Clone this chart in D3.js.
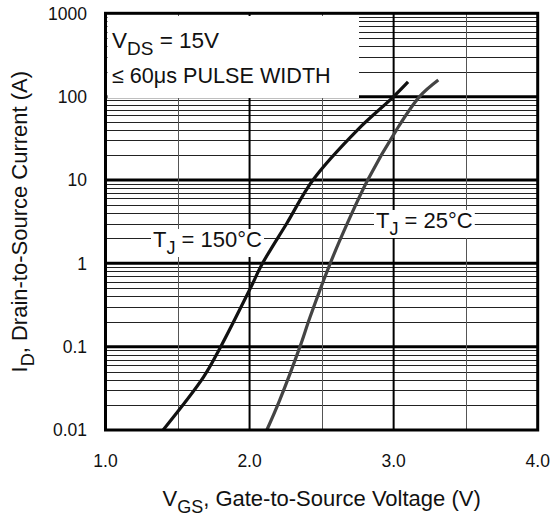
<!DOCTYPE html>
<meta charset="utf-8">
<style>
body { margin:0; background:#fff; }
svg text { font-family:"Liberation Sans", Arial, Helvetica, sans-serif; fill:#111; }
.minor { stroke:#222; stroke-width:1; shape-rendering:crispEdges; }
.decade { stroke:#000; stroke-width:3; }
.vmajor { stroke:#000; stroke-width:2; }
.vminor { stroke:#555; stroke-width:1; shape-rendering:crispEdges; }
.frame { fill:none; stroke:#000; stroke-width:3; }
.curve { fill:none; stroke-width:3.2; stroke-linejoin:round; }
</style>
<body>
<script src="https://cdnjs.cloudflare.com/ajax/libs/d3/7.8.5/d3.min.js"></script>
<script>

var width = 552,
    height = 519;

// axis ticks
var vgsTicks = [1.0, 2.0, 3.0, 4.0];
var vgsGrid = [1.5, 2.0, 2.5, 3.0, 3.5];
var idTicks = [0.01, 0.1, 1, 10, 100, 1000];

// Tj = 150C
var vgs150 = [1.40, 1.68, 1.80, 2.00, 2.09, 2.26, 2.44, 2.75, 3.00, 3.10];
var id150  = [0.01, 0.043, 0.1, 0.48, 1.0, 3.05, 10, 40, 100, 150];

// Tj = 25C
var vgs25 = [2.12, 2.21, 2.35, 2.42, 2.56, 2.68, 2.82, 3.02, 3.18, 3.31];
var id25  = [0.01, 0.023, 0.1, 0.227, 1.0, 3.05, 10, 40, 100, 158];

var x = d3.scaleLinear().domain([1, 4]).range([105.5, 537.7]);
var y = d3.scaleLog().domain([0.01, 1000]).range([430, 13.3]);

var svg = d3.select("body").append("svg")
    .attr("width", width)
    .attr("height", height);

var grid = svg.append("g");

// minor horizontal lines 2..9 in each decade
var minors = [];
idTicks.slice(0, -1).forEach(function(d){
    for (var k = 2; k <= 9; k++) minors.push(d * k);
});
grid.selectAll(".minor")
    .data(minors)
    .enter().append("line")
    .attr("class","minor")
    .attr("x1", x(1)).attr("x2", x(4))
    .attr("y1", function(d){ return Math.round(y(d)) + 0.5; })
    .attr("y2", function(d){ return Math.round(y(d)) + 0.5; });

grid.selectAll(".decade")
    .data(idTicks.slice(1, -1))
    .enter().append("line")
    .attr("class","decade")
    .attr("x1", x(1)).attr("x2", x(4))
    .attr("y1", function(d){ return y(d); })
    .attr("y2", function(d){ return y(d); });

grid.selectAll(".vline")
    .data(vgsGrid)
    .enter().append("line")
    .attr("class", function(d){ return d % 1 === 0 ? "vmajor" : "vminor"; })
    .attr("x1", function(d){ return d % 1 === 0 ? x(d) : Math.round(x(d)) + 0.5; })
    .attr("x2", function(d){ return d % 1 === 0 ? x(d) : Math.round(x(d)) + 0.5; })
    .attr("y1", y(1000)).attr("y2", y(0.01));

// white annotation box (upper left)
svg.append("rect")
    .attr("x", x(1) + 2).attr("y", 16)
    .attr("width", 359 - x(1) - 2).attr("height", 98 - 16)
    .attr("fill", "#fff");

var ann = svg.append("g");
var t1 = ann.append("text").attr("x", 112).attr("y", 48).attr("font-size", 22.5);
t1.append("tspan").text("V");
t1.append("tspan").attr("dy", 7).attr("font-size", 19).text("DS");
t1.append("tspan").attr("dy", -7).text(" = 15V");
ann.append("text").attr("x", 112).attr("y", 83).attr("font-size", 21.6)
    .text("\u2264 60\u03bcs PULSE WIDTH");

// curves
var line = d3.line()
    .x(function(d){ return x(d[0]); })
    .y(function(d){ return y(d[1]); })
    .curve(d3.curveCatmullRom);

var curve150 = d3.zip(vgs150, id150);
var curve25 = d3.zip(vgs25, id25);

svg.append("path").datum(curve150).attr("class","curve")
    .attr("stroke", "#111").attr("d", line);
svg.append("path").datum(curve25).attr("class","curve")
    .attr("stroke", "#444").attr("d", line);

// curve labels with white background
function tjLabel(px, py, temp) {
    var g = svg.append("g");
    var bg = g.append("rect").attr("fill", "#fff");
    var t = g.append("text").attr("x", px).attr("y", py).attr("font-size", 22);
    t.append("tspan").text("T");
    t.append("tspan").attr("dy", 7).attr("font-size", 18).text("J");
    t.append("tspan").attr("dy", -7).text(" = " + temp + "\u00b0C");
    var b = t.node().getBBox();
    bg.attr("x", b.x - 2).attr("y", b.y + 2)
      .attr("width", b.width + 4).attr("height", b.height - 3);
}
tjLabel(153, 247, 150);
tjLabel(376, 228, 25);

// frame
svg.append("rect").attr("class","frame")
    .attr("x", x(1)).attr("y", y(1000))
    .attr("width", x(4) - x(1)).attr("height", y(0.01) - y(1000));

// tick labels
var fmtY = function(d){ return d < 1 ? String(d) : d3.format("d")(d); };
svg.selectAll(".ylab")
    .data(idTicks)
    .enter().append("text")
    .attr("x", 87)
    .attr("y", function(d){ return y(d); })
    .attr("dy", "0.36em")
    .attr("text-anchor", "end")
    .attr("font-size", 17.5)
    .text(fmtY);

svg.selectAll(".xlab")
    .data(vgsTicks)
    .enter().append("text")
    .attr("x", function(d){ return x(d); })
    .attr("y", 467)
    .attr("text-anchor", "middle")
    .attr("font-size", 17.5)
    .text(d3.format(".1f"));

// axis titles
var xt = svg.append("text")
    .attr("x", (x(1) + x(4)) / 2).attr("y", 506)
    .attr("text-anchor", "middle").attr("font-size", 22);
xt.append("tspan").text("V");
xt.append("tspan").attr("dy", 7).attr("font-size", 18).text("GS");
xt.append("tspan").attr("dy", -7).text(", Gate-to-Source Voltage (V)");

var yt = svg.append("text")
    .attr("transform", "translate(27," + ((y(1000) + y(0.01)) / 2) + ") rotate(-90)")
    .attr("text-anchor", "middle").attr("font-size", 22);
yt.append("tspan").text("I");
yt.append("tspan").attr("dy", 7).attr("font-size", 18).text("D");
yt.append("tspan").attr("dy", -7).text(", Drain-to-Source Current (A)");

</script>
